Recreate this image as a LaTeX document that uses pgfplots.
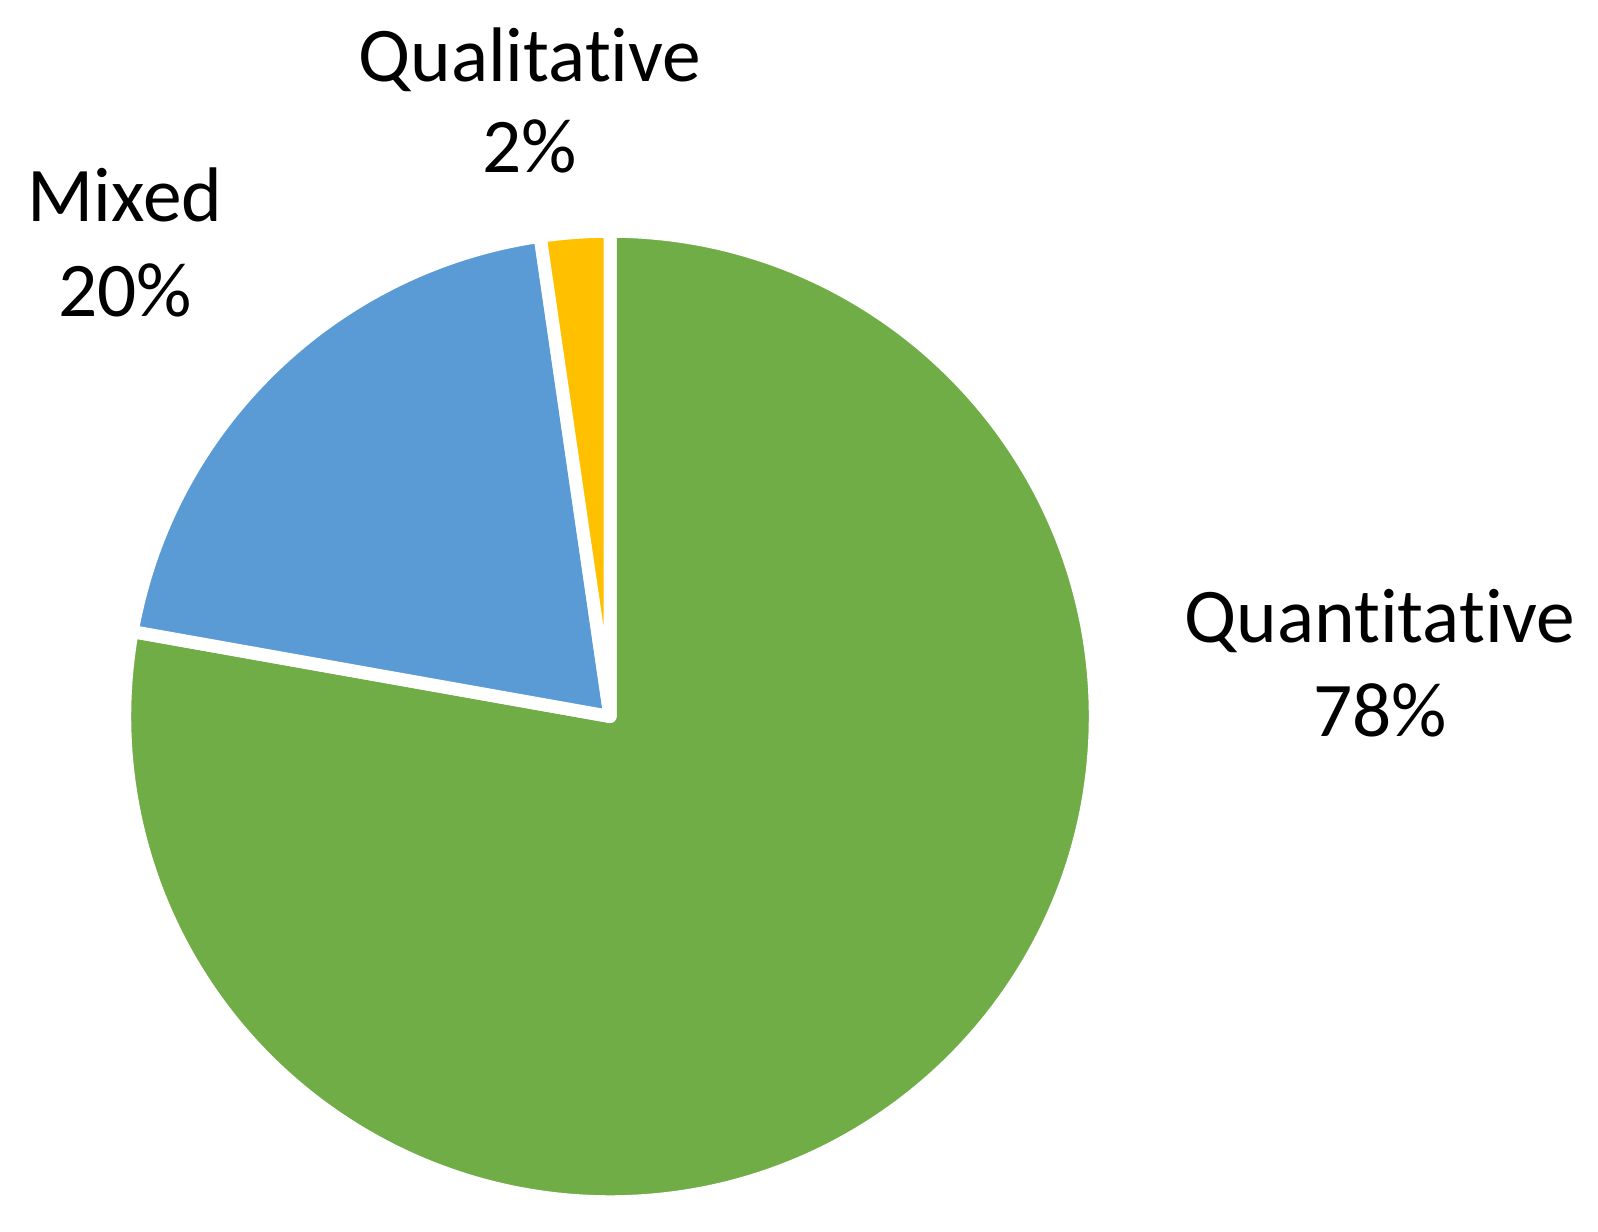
\documentclass[border=0pt]{standalone}
\usepackage{fontspec}
\setmainfont{Carlito}[Ligatures=NoCommon]
\usepackage{pgfplots}
\usepackage{pgfplotstable}
\pgfplotsset{compat=1.18}
\definecolor{pgreen}{HTML}{70AD47}
\definecolor{pblue}{HTML}{5B9BD5}
\definecolor{pgold}{HTML}{FFC000}

\pgfplotstableread{
label value
Quantitative 77.8
Mixed 19.9
Qualitative 2.3
}\piedata

\begin{document}
\begin{tikzpicture}
\pgfplotstablegetelem{0}{value}\of\piedata \edef\vA{\pgfplotsretval}
\pgfplotstablegetelem{1}{value}\of\piedata \edef\vB{\pgfplotsretval}
\pgfplotstablegetelem{2}{value}\of\piedata \edef\vC{\pgfplotsretval}
% slices run clockwise from 12 o'clock
\pgfmathsetmacro\aA{90-3.6*\vA}
\pgfmathsetmacro\aB{\aA-3.6*\vB}
\pgfmathsetmacro\aC{\aB-3.6*\vC}
% labels show rounded percentages
\pgfmathtruncatemacro\pA{round(\vA)}
\pgfmathtruncatemacro\pB{round(\vB)}
\pgfmathtruncatemacro\pC{round(\vC)}
\begin{axis}[
  hide axis,
  scale only axis,
  x=0.01cm, y=0.01cm,
  xmin=0, xmax=1598, ymin=0, ymax=1231,
  clip=false,
]
\path (axis cs:0,0) rectangle (axis cs:1598,1231);
\filldraw[fill=pgreen, draw=white, line width=3.7pt, line join=round]
  (axis cs:610,514.5) -- ++(90:4.85cm) arc[start angle=90, end angle=\aA, radius=4.85cm] -- cycle;
\filldraw[fill=pblue, draw=white, line width=3.7pt, line join=round]
  (axis cs:610,514.5) -- ++(\aA:4.85cm) arc[start angle=\aA, end angle=\aB, radius=4.85cm] -- cycle;
\filldraw[fill=pgold, draw=white, line width=3.7pt, line join=round]
  (axis cs:610,514.5) -- ++(\aB:4.85cm) arc[start angle=\aB, end angle=\aC, radius=4.85cm] -- cycle;
\node[anchor=base, font=\fontsize{22}{26}\selectfont] at (axis cs:1380,588) {Quantitative};
\node[anchor=base, font=\fontsize{22}{26}\selectfont] at (axis cs:1380,494) {\pA\%};
\node[anchor=base, font=\fontsize{22}{26}\selectfont] at (axis cs:125,1009) {Mixed};
\node[anchor=base, font=\fontsize{22}{26}\selectfont] at (axis cs:125,914) {\pB\%};
\node[anchor=base, font=\fontsize{22}{26}\selectfont] at (axis cs:530,1149) {Qualitative};
\node[anchor=base, font=\fontsize{22}{26}\selectfont] at (axis cs:530,1058) {\pC\%};
\end{axis}
\end{tikzpicture}
\end{document}
